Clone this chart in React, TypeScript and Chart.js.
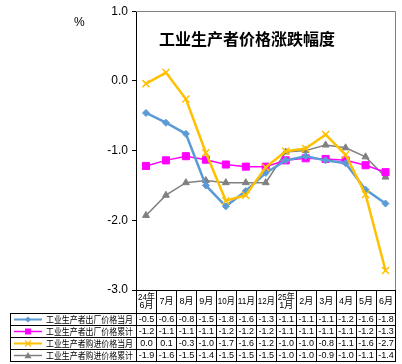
import React, { useEffect, useRef } from "react";
import { Chart, registerables } from "chart.js";

Chart.register(...registerables);

const categories: string[][] = [
  ["24年", "6月"], ["7月"], ["8月"], ["9月"], ["10月"], ["11月"], ["12月"],
  ["25年", "1月"], ["2月"], ["3月"], ["4月"], ["5月"], ["6月"],
];

const seriesNames = [
  "工业生产者出厂价格当月",
  "工业生产者出厂价格累计",
  "工业生产者购进价格当月",
  "工业生产者购进价格累计",
];

const ppiMonthly = [-0.46, -0.6, -0.76, -1.5, -1.8, -1.58, -1.32, -1.14, -1.08, -1.14, -1.18, -1.56, -1.76];
const ppiCumulative = [-1.22, -1.14, -1.08, -1.13, -1.2, -1.23, -1.23, -1.14, -1.11, -1.12, -1.14, -1.21, -1.31];
const ippMonthly = [-0.04, 0.12, -0.26, -1.03, -1.72, -1.64, -1.24, -1.01, -0.97, -0.77, -1.06, -1.63, -2.72];
const ippCumulative = [-1.93, -1.64, -1.46, -1.43, -1.46, -1.46, -1.46, -1.02, -1.0, -0.92, -0.96, -1.09, -1.38];

const yMin = -3;
const yMax = 1;
const yStep = 1;

const chartTitle = "工业生产者价格涨跌幅度";
const unitLabel = "%";

const seriesColors = ["#5B9BD5", "#FF00FF", "#FFC000", "#808080"];
const seriesStyles = ["rectRot", "rect", "crossRot", "triangle"];

function fmt(v: number): string {
  const r = Math.round(v * 10) / 10;
  const s = r.toFixed(1);
  return s === "-0.0" ? "0.0" : s;
}

function drawMarker(ctx: CanvasRenderingContext2D, style: string, x: number, y: number, color: string) {
  ctx.save();
  ctx.fillStyle = color;
  ctx.strokeStyle = color;
  ctx.lineWidth = 1.2;
  ctx.beginPath();
  if (style === "rectRot") {
    const r = 3;
    ctx.moveTo(x, y - r); ctx.lineTo(x + r, y); ctx.lineTo(x, y + r); ctx.lineTo(x - r, y); ctx.closePath();
    ctx.fill();
  } else if (style === "rect") {
    ctx.rect(x - 3, y - 3, 6, 6);
    ctx.fill();
  } else if (style === "crossRot") {
    const r = 3;
    ctx.moveTo(x - r, y - r); ctx.lineTo(x + r, y + r);
    ctx.moveTo(x + r, y - r); ctx.lineTo(x - r, y + r);
    ctx.stroke();
  } else {
    const r = 3.5;
    ctx.moveTo(x, y - r); ctx.lineTo(x + r, y + r * 0.75); ctx.lineTo(x - r, y + r * 0.75); ctx.closePath();
    ctx.fill();
  }
  ctx.restore();
}

const decorPlugin = {
  id: "decor",
  afterDraw(chart: any) {
    const ctx: CanvasRenderingContext2D = chart.ctx;
    const area = chart.chartArea;
    const xs = chart.scales.x;
    const allSeries = [ppiMonthly, ppiCumulative, ippMonthly, ippCumulative];
    ctx.save();

    // plot border (top, right)
    ctx.strokeStyle = "#808080";
    ctx.lineWidth = 1;
    ctx.beginPath();
    ctx.moveTo(area.left, Math.round(area.top) + 0.5);
    ctx.lineTo(Math.round(area.right) - 0.5, Math.round(area.top) + 0.5);
    ctx.lineTo(Math.round(area.right) - 0.5, Math.round(area.bottom));
    ctx.stroke();

    // title & unit
    ctx.fillStyle = "#000";
    ctx.font = "bold 16px 'Noto Sans CJK SC', sans-serif";
    ctx.textAlign = "left";
    ctx.textBaseline = "middle";
    ctx.fillText(chartTitle, 159, 39);
    ctx.font = "12px 'Liberation Sans', Arial, sans-serif";
    ctx.fillText(unitLabel, 74, 23);

    // table geometry
    const n = categories.length;
    const bounds: number[] = [area.left];
    for (let i = 0; i < n - 1; i++) {
      bounds.push((xs.getPixelForValue(i) + xs.getPixelForValue(i + 1)) / 2);
    }
    bounds.push(area.right);
    const px = (v: number) => Math.round(v) - 0.5;
    const top = Math.round(area.bottom);
    const headBottom = 313;
    const rowH = 12;
    const tableBottom = headBottom + rowH * 4;
    const legLeft = 10;

    ctx.strokeStyle = "#000";
    ctx.lineWidth = 1;
    ctx.beginPath();
    // horizontal lines
    ctx.moveTo(area.left, top + 0.5); ctx.lineTo(area.right, top + 0.5);
    for (let r = 0; r <= 4; r++) {
      const y = headBottom + r * rowH + 0.5;
      ctx.moveTo(legLeft, y); ctx.lineTo(area.right, y);
    }
    // vertical lines
    ctx.moveTo(legLeft + 0.5, headBottom); ctx.lineTo(legLeft + 0.5, tableBottom + 1);
    for (let i = 0; i < bounds.length; i++) {
      const x = i === bounds.length - 1 ? Math.round(bounds[i]) - 0.5 : px(bounds[i]) + 1;
      ctx.moveTo(x, top); ctx.lineTo(x, tableBottom + 1);
    }
    ctx.stroke();

    // header labels
    ctx.fillStyle = "#000";
    ctx.textAlign = "center";
    ctx.textBaseline = "middle";
    ctx.font = "9px 'Liberation Sans', 'Noto Sans CJK SC', sans-serif";
    for (let i = 0; i < n; i++) {
      const cx = (bounds[i] + bounds[i + 1]) / 2 + 0.5;
      const w = bounds[i + 1] - bounds[i] - 3;
      const lines = categories[i];
      if (lines.length === 2) {
        ctx.fillText(lines[0], cx, 297.5, w);
        ctx.fillText(lines[1], cx, 305.5, w);
      } else {
        ctx.fillText(lines[0], cx, 301.5, w);
      }
    }

    // rows
    for (let r = 0; r < 4; r++) {
      const cy = headBottom + r * rowH + rowH / 2 + 0.5;
      // legend sample
      ctx.save();
      ctx.strokeStyle = seriesColors[r];
      ctx.lineWidth = r === 0 || r === 2 ? 2 : 1.5;
      ctx.beginPath();
      ctx.moveTo(14, cy); ctx.lineTo(42, cy);
      ctx.stroke();
      ctx.restore();
      drawMarker(ctx, seriesStyles[r], 28, cy, seriesColors[r]);
      ctx.fillStyle = "#000";
      ctx.textAlign = "left";
      ctx.font = "9px 'Noto Sans CJK SC', sans-serif";
      ctx.fillText(seriesNames[r], 46, cy, 87);
      ctx.textAlign = "center";
      ctx.font = "9px 'Liberation Sans', Arial, sans-serif";
      const data = allSeries[r];
      for (let i = 0; i < n; i++) {
        const cx = (bounds[i] + bounds[i + 1]) / 2 + 0.5;
        const w = bounds[i + 1] - bounds[i] - 3;
        ctx.fillText(fmt(data[i]), cx, cy, w);
      }
    }
    ctx.restore();
  },
};

export default function App() {
  const canvasRef = useRef<HTMLCanvasElement | null>(null);

  useEffect(() => {
    const canvas = canvasRef.current;
    if (!canvas) return;
    const allSeries = [ppiMonthly, ppiCumulative, ippMonthly, ippCumulative];
    const widths = [2.5, 1.5, 2.5, 1.5];
    const radii = [3.5, 5, 5, 4];
    const orders = [1, 2, 0, 3];
    const chart = new Chart(canvas, {
      type: "line",
      data: {
        labels: categories,
        datasets: allSeries.map((d, i) => ({
          label: seriesNames[i],
          data: d,
          borderColor: seriesColors[i],
          backgroundColor: seriesColors[i],
          pointBackgroundColor: seriesColors[i],
          pointBorderColor: seriesColors[i],
          borderWidth: widths[i],
          pointStyle: seriesStyles[i] as any,
          pointRadius: radii[i],
          pointBorderWidth: i === 2 ? 1.5 : 1,
          tension: 0,
          fill: false,
          order: orders[i],
        })),
      },
      options: {
        animation: false,
        responsive: false,
        devicePixelRatio: 1,
        layout: { padding: { top: 11, right: 2, bottom: 74, left: 0 } },
        plugins: {
          legend: { display: false },
          tooltip: { enabled: false },
          title: { display: false },
        },
        scales: {
          x: { type: "category", display: false, offset: true },
          y: {
            min: yMin,
            max: yMax,
            afterFit: (s: any) => { s.width = 136; },
            ticks: {
              stepSize: yStep,
              callback: (v: any) => Number(v).toFixed(1),
              color: "#000",
              font: { family: "'Liberation Sans', Arial, sans-serif", size: 12 },
              padding: 4,
            },
            grid: { drawOnChartArea: false, drawTicks: true, tickLength: 4, color: "#000" },
            border: { display: true, color: "#000", width: 1 },
          },
        },
      },
      plugins: [decorPlugin],
    });
    return () => chart.destroy();
  }, []);

  return (
    <div style={{ position: "fixed", left: 0, top: 0, width: 402, height: 364, background: "#fff" }}>
      <canvas ref={canvasRef} width={402} height={364} style={{ display: "block", width: 402, height: 364 }} />
    </div>
  );
}
